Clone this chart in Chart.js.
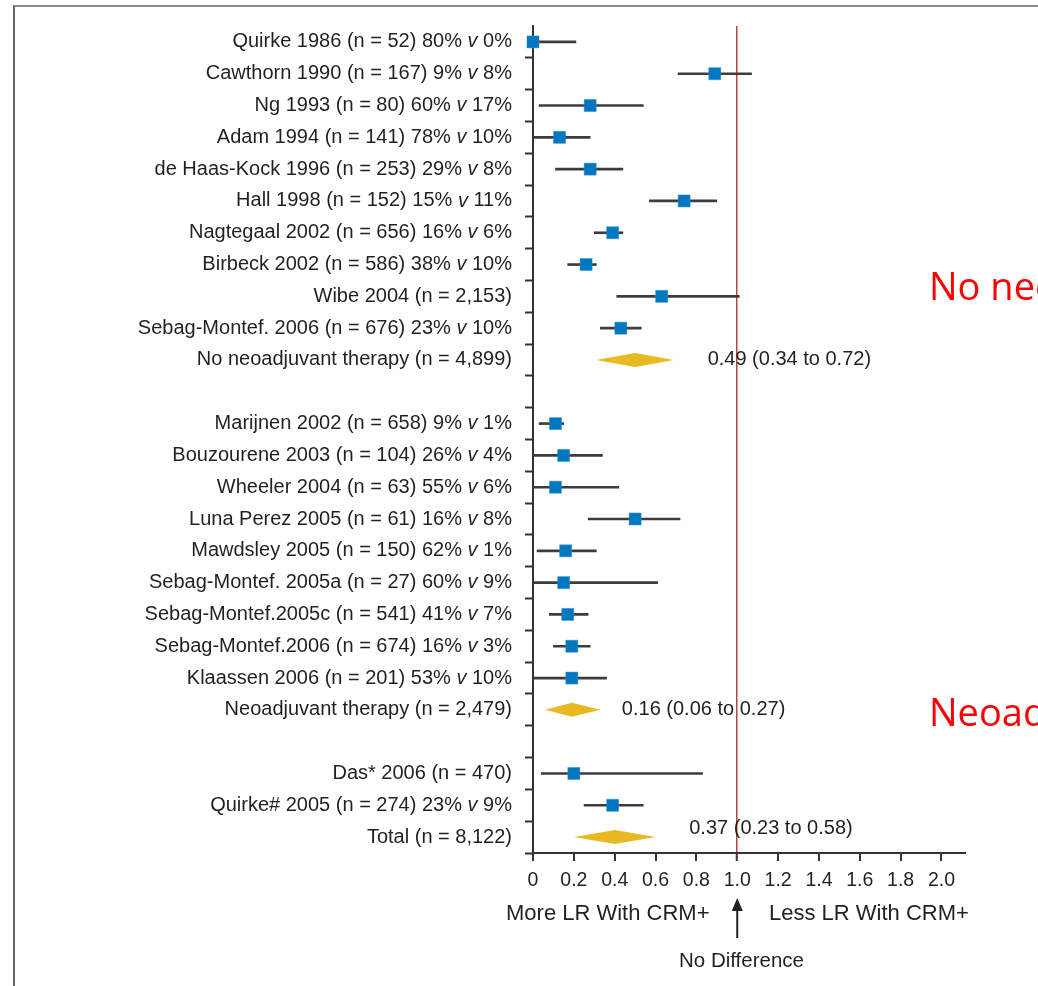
<!DOCTYPE html>
<html>
<head>
<meta charset="utf-8">
<script src="https://cdn.jsdelivr.net/npm/chart.js@4.4.1/dist/chart.umd.min.js"></script>
<style>
  body { margin: 0; width: 1038px; height: 986px; overflow: hidden; background: #fff; position: relative; font-family: "Liberation Sans", Arial, sans-serif; color: #231f20; }
  #frame { position: absolute; left: 13px; top: 5px; width: 1100px; height: 1100px; border-top: 2px solid #8a8a8a; border-left: 2px solid #666; }
  #wrap { position: absolute; left: 0; top: 0; width: 1038px; height: 986px; }
  .txt { position: absolute; white-space: nowrap; }
  .red { position: absolute; white-space: nowrap; color: #ff0000; font-family: "Open Sans", "Noto Sans", sans-serif; font-size: 38px; line-height: 38px; }
</style>
</head>
<body>
<div id="frame"></div>
<div id="wrap"><canvas id="forest"></canvas></div>

<div class="txt" style="left:506px; top:901px; font-size:22px; line-height:24px;">More LR With CRM+</div>
<div class="txt" style="left:769px; top:901px; font-size:22px; line-height:24px;">Less LR With CRM+</div>
<div class="txt" style="left:679px; top:949px; font-size:20.5px; line-height:22px;">No Difference</div>
<div class="red" style="left:929px; top:266px;">No neoadjuvant</div>
<div class="red" style="left:929px; top:692px;">Neoadjuvant</div>

<script>
// rows, top to bottom
const studies = [
  'Quirke 1986 (n = 52) 80% v 0%',
  'Cawthorn 1990 (n = 167) 9% v 8%',
  'Ng 1993 (n = 80) 60% v 17%',
  'Adam 1994 (n = 141) 78% v 10%',
  'de Haas-Kock 1996 (n = 253) 29% v 8%',
  'Hall 1998 (n = 152) 15% v 11%',
  'Nagtegaal 2002 (n = 656) 16% v 6%',
  'Birbeck 2002 (n = 586) 38% v 10%',
  'Wibe 2004 (n = 2,153)',
  'Sebag-Montef. 2006 (n = 676) 23% v 10%',
  'No neoadjuvant therapy (n = 4,899)',
  '',
  'Marijnen 2002 (n = 658) 9% v 1%',
  'Bouzourene 2003 (n = 104) 26% v 4%',
  'Wheeler 2004 (n = 63) 55% v 6%',
  'Luna Perez 2005 (n = 61) 16% v 8%',
  'Mawdsley 2005 (n = 150) 62% v 1%',
  'Sebag-Montef. 2005a (n = 27) 60% v 9%',
  'Sebag-Montef.2005c (n = 541) 41% v 7%',
  'Sebag-Montef.2006 (n = 674) 16% v 3%',
  'Klaassen 2006 (n = 201) 53% v 10%',
  'Neoadjuvant therapy (n = 2,479)',
  ' ',
  'Das* 2006 (n = 470)',
  'Quirke# 2005 (n = 274) 23% v 9%',
  'Total (n = 8,122)'
];

// point estimates (squares) and confidence limits
const estimate = [0.00, 0.89, 0.28, 0.13, 0.28, 0.74, 0.39, 0.26, 0.63, 0.43, null, null,
                  0.11, 0.15, 0.11, 0.50, 0.16, 0.15, 0.17, 0.19, 0.19, null, null,
                  0.20, 0.39, null];
const ciLow = [0.00, 0.71, 0.03, 0.00, 0.11, 0.57, 0.30, 0.17, 0.41, 0.33, null, null,
               0.03, 0.00, 0.00, 0.27, 0.02, 0.00, 0.08, 0.10, 0.00, null, null,
               0.04, 0.25, null];
const ciHigh = [0.21, 1.07, 0.54, 0.28, 0.44, 0.90, 0.44, 0.31, 1.01, 0.53, null, null,
                0.15, 0.34, 0.42, 0.72, 0.31, 0.61, 0.27, 0.28, 0.36, null, null,
                0.83, 0.54, null];

// pooled estimates (diamonds)
const pooledRows = [10, 21, 25];
const pooledLow = [0.31, 0.06, 0.20];
const pooledMid = [0.50, 0.19, 0.40];
const pooledHigh = [0.69, 0.33, 0.60];
const pooledText = ['0.49 (0.34 to 0.72)', '0.16 (0.06 to 0.27)', '0.37 (0.23 to 0.58)'];

const xTicks = [0, 0.2, 0.4, 0.6, 0.8, 1.0, 1.2, 1.4, 1.6, 1.8, 2.0];

const FONT = '"Liberation Sans", Arial, sans-serif';
const textAt = [0.855, 0.435, 0.765];   // where the pooled labels start
const textDy = [0, 0, -9];

const forestPlugin = {
  id: 'forest',
  afterDatasetsDraw(chart) {
    const { ctx, scales: { x, y } } = chart;
    ctx.save();
    pooledRows.forEach((row, i) => {
      const cy = y.getPixelForValue(row);
      const l = x.getPixelForValue(pooledLow[i]);
      const m = x.getPixelForValue(pooledMid[i]);
      const r = x.getPixelForValue(pooledHigh[i]);
      ctx.fillStyle = '#e8b922';
      ctx.beginPath();
      ctx.moveTo(l, cy);
      ctx.lineTo(m, cy - 7);
      ctx.lineTo(r, cy);
      ctx.lineTo(m, cy + 7);
      ctx.closePath();
      ctx.fill();

      ctx.fillStyle = '#231f20';
      ctx.font = '20px ' + FONT;
      ctx.textAlign = 'left';
      ctx.textBaseline = 'middle';
      ctx.fillText(pooledText[i], x.getPixelForValue(textAt[i]), cy + textDy[i]);
    });
    ctx.restore();
  },
  afterDraw(chart) {
    const { ctx, scales: { x, y } } = chart;
    ctx.save();
    ctx.fillStyle = '#231f20';
    ctx.textBaseline = 'middle';
    ctx.textAlign = 'left';
    const right = y.right - 21;

    // row labels, with the italic "v"
    studies.forEach((label, i) => {
      const cy = y.getPixelForValue(i);
      const parts = label.split(' v ');
      const normal = '20px ' + FONT, italic = 'italic 20px ' + FONT;
      if (parts.length === 2) {
        const a = parts[0] + ' ', b = ' ' + parts[1];
        ctx.font = normal;
        const wa = ctx.measureText(a).width, wb = ctx.measureText(b).width;
        ctx.font = italic;
        const wv = ctx.measureText('v').width;
        let px = right - (wa + wv + wb);
        ctx.font = normal; ctx.fillText(a, px, cy); px += wa;
        ctx.font = italic; ctx.fillText('v', px, cy); px += wv;
        ctx.font = normal; ctx.fillText(b, px, cy);
      } else {
        ctx.font = normal;
        ctx.fillText(label, right - ctx.measureText(label).width, cy);
      }
    });

    // "no difference" arrow
    const ax = x.getPixelForValue(1);
    ctx.strokeStyle = '#231f20';
    ctx.lineWidth = 2;
    ctx.beginPath();
    ctx.moveTo(ax, 938);
    ctx.lineTo(ax, 908);
    ctx.stroke();
    ctx.beginPath();
    ctx.moveTo(ax, 898);
    ctx.lineTo(ax - 5.5, 911);
    ctx.lineTo(ax + 5.5, 911);
    ctx.closePath();
    ctx.fill();
    ctx.restore();
  }
};

new Chart(document.getElementById('forest'), {
  type: 'bar',
  data: {
    labels: studies,
    datasets: [
      {
        type: 'line',
        indexAxis: 'y',
        data: estimate,
        showLine: false,
        clip: false,
        pointStyle: 'rect',
        pointRadius: 8.5,
        pointBackgroundColor: '#0077c1',
        pointBorderColor: '#2a8fd0',
        pointBorderWidth: 0.5,
        order: 0
      },
      {
        data: ciLow.map((lo, i) => lo === null ? null : [lo, ciHigh[i]]),
        backgroundColor: '#3c3c3c',
        barThickness: 2,
        borderWidth: 0,
        order: 1
      }
    ]
  },
  options: {
    indexAxis: 'y',
    responsive: true,
    maintainAspectRatio: false,
    animation: false,
    layout: { padding: { top: 26, right: 72, left: 0, bottom: 0 } },
    plugins: { legend: { display: false }, tooltip: { enabled: false } },
    scales: {
      x: {
        type: 'linear',
        position: 'bottom',
        min: 0,
        max: 2.12,
        afterBuildTicks: scale => { scale.ticks = xTicks.map(v => ({ value: v })); },
        afterFit: scale => { scale.height = 133; },
        ticks: {
          color: '#231f20',
          font: { family: FONT, size: 19.5 },
          padding: 8,
          callback: v => v === 0 ? '0' : Number(v).toFixed(1)
        },
        grid: {
          drawOnChartArea: true,
          color: c => (c.tick && Math.abs(c.tick.value - 1) < 1e-6) ? '#b5473a' : 'rgba(0,0,0,0)',
          lineWidth: c => (c.tick && Math.abs(c.tick.value - 1) < 1e-6) ? 1.5 : 0,
          tickColor: '#333',
          tickLength: 8,
          tickWidth: 2
        },
        border: { color: '#333', width: 2 }
      },
      y: {
        type: 'category',
        offset: true,
        afterFit: scale => { scale.width = 533; },
        ticks: { display: false, autoSkip: false },
        grid: {
          offset: true,
          drawOnChartArea: false,
          tickLength: 8,
          tickColor: c => c.index === 0 ? 'rgba(0,0,0,0)' : '#333',
          tickWidth: 2
        },
        border: { color: '#333', width: 2 }
      }
    }
  },
  plugins: [forestPlugin]
});
</script>
</body>
</html>
